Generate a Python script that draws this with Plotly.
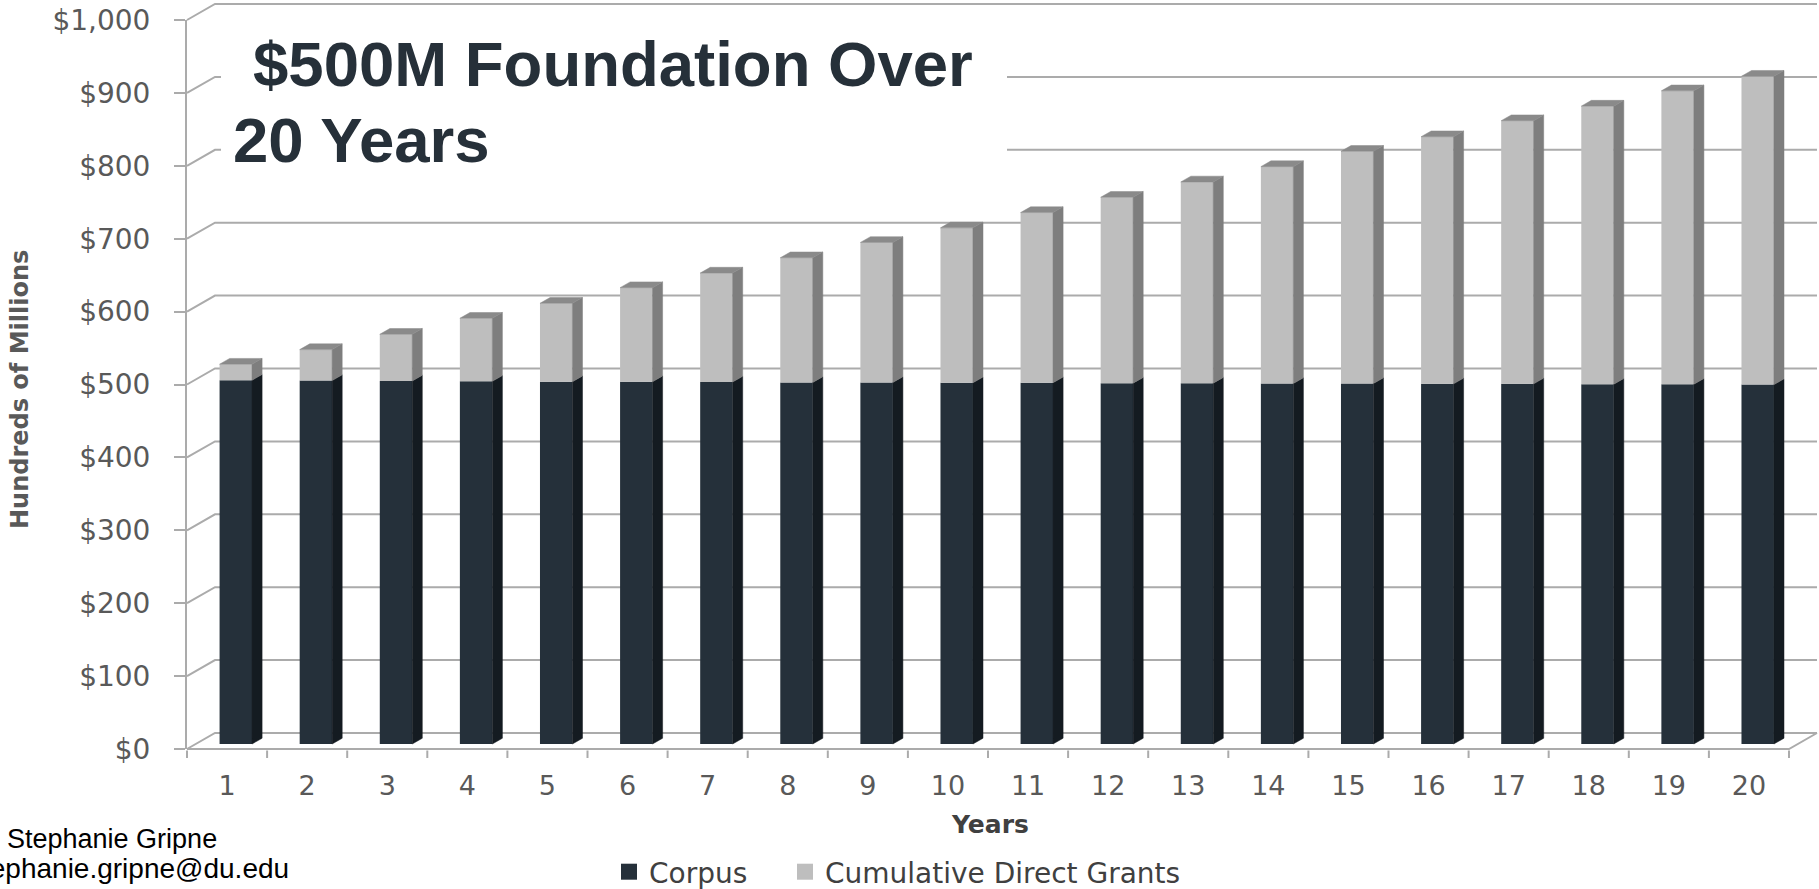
import plotly.graph_objects as go

# ---------------- data ----------------
years = list(range(1, 21))
year_labels = [str(y) for y in years]
corpus = [499, 498.5, 498, 497.5, 497, 497, 496.5, 496, 496, 495.5,
          495.5, 495, 495, 494.5, 494.5, 494, 494, 493.5, 493.5, 493]
grants = [22, 42.5, 64, 86.5, 107.5, 129, 149.5, 171, 192, 212.5,
          233.5, 255, 276, 297.5, 318.5, 339, 361, 381.5, 402.5, 423]
y_tick_vals = [0, 100, 200, 300, 400, 500, 600, 700, 800, 900, 1000]
y_tick_text = ["$0", "$100", "$200", "$300", "$400", "$500", "$600",
               "$700", "$800", "$900", "$1,000"]

# ---------------- layout geometry ----------------
W, H = 1819, 889
X0_PX = 187.0        # pixel of x = 0.5 (front y-axis)
PX_PER_X = 80.1      # pixels per category
Y0_PX = 749.0        # pixel (from top) of value 0 on the front plane
PX_PER_V = 0.729     # pixels per dollar unit
WALL_DX = 28 / PX_PER_X   # depth of the 3-D box in x units
WALL_DY = 16 / PX_PER_V   # depth of the 3-D box in value units
BAR_F = 0.3125            # depth position of bar front face
BAR_D = 0.36              # bar depth (fraction of wall depth)
BAR_W = 0.405             # bar front-face width (category units)

GRID = "#ababab"
C_FRONT, C_SIDE = "#25303a", "#141b21"
G_FRONT, G_SIDE, G_TOP = "#bebebe", "#7e7e7e", "#8a8a8a"
TICKFONT = "DejaVu Sans"

bdx, bdy = BAR_D * WALL_DX, BAR_D * WALL_DY
base0 = BAR_F * WALL_DY
xcent = [y + BAR_F * WALL_DX for y in years]

fig = go.Figure()

# ---------- back wall / floor (subplot x,y covering the full page) ----------
gx, gy = [], []
lo, hi = years[0] - 0.5, years[-1] + 0.5
for v in y_tick_vals:
    gx += [lo, lo + WALL_DX, hi + WALL_DX, None]
    gy += [v, v + WALL_DY, v + WALL_DY, None]
# front floor edge and right floor diagonal
gx += [lo, hi, hi + WALL_DX, None]
gy += [0, 0, WALL_DY, None]
# x tick marks at category boundaries
tick_v = 9 / PX_PER_V
for i in range(len(years) + 1):
    b = lo + i
    gx += [b, b, None]
    gy += [-1.5 / PX_PER_V, -tick_v, None]
fig.add_trace(go.Scatter(x=gx, y=gy, mode="lines", line=dict(color=GRID, width=2),
                         hoverinfo="skip", showlegend=False, xaxis="x", yaxis="y"))

# ---------- bars (subplot x2,y2) ----------
fig.add_trace(go.Bar(x=xcent, y=corpus, base=[base0] * len(years), width=BAR_W,
                     marker=dict(color=C_FRONT, line=dict(width=0)), name="Corpus",
                     showlegend=False, xaxis="x2", yaxis="y2"))
fig.add_trace(go.Bar(x=xcent, y=grants, base=[base0 + c for c in corpus], width=BAR_W,
                     marker=dict(color=G_FRONT, line=dict(width=0)),
                     name="Cumulative Direct Grants", showlegend=False,
                     xaxis="x2", yaxis="y2"))


def side_faces(lower, upper):
    xs, ys = [], []
    for xc, a, b in zip(xcent, lower, upper):
        xr = xc + BAR_W / 2
        y0, y1 = base0 + a, base0 + b
        xs += [xr, xr + bdx, xr + bdx, xr, xr, None]
        ys += [y0, y0 + bdy, y1 + bdy, y1, y0, None]
    return xs, ys


sx, sy = side_faces([0] * len(years), corpus)
fig.add_trace(go.Scatter(x=sx, y=sy, mode="lines", fill="toself", fillcolor=C_SIDE,
                         line=dict(color=C_SIDE, width=0.5), hoverinfo="skip",
                         showlegend=False, xaxis="x2", yaxis="y2"))
tops = [c + g for c, g in zip(corpus, grants)]
sx, sy = side_faces(corpus, tops)
fig.add_trace(go.Scatter(x=sx, y=sy, mode="lines", fill="toself", fillcolor=G_SIDE,
                         line=dict(color=G_SIDE, width=0.5), hoverinfo="skip",
                         showlegend=False, xaxis="x2", yaxis="y2"))
tx, ty = [], []
for xc, t in zip(xcent, tops):
    xl, xr, yt = xc - BAR_W / 2, xc + BAR_W / 2, base0 + t
    tx += [xl, xr, xr + bdx, xl + bdx, xl, None]
    ty += [yt, yt, yt + bdy, yt + bdy, yt, None]
fig.add_trace(go.Scatter(x=tx, y=ty, mode="lines", fill="toself", fillcolor=G_TOP,
                         line=dict(color=G_TOP, width=0.5), hoverinfo="skip",
                         showlegend=False, xaxis="x2", yaxis="y2"))

# legend entries (square swatches)
fig.add_trace(go.Scatter(x=[None], y=[None], mode="markers", name="Corpus",
                         marker=dict(symbol="square", size=16, color=C_FRONT),
                         legend="legend", xaxis="x2", yaxis="y2"))
fig.add_trace(go.Scatter(x=[None], y=[None], mode="markers",
                         name="Cumulative Direct Grants",
                         marker=dict(symbol="square", size=16, color=G_FRONT),
                         legend="legend2", xaxis="x2", yaxis="y2"))

x_full = [0.5 - X0_PX / PX_PER_X, 0.5 + (W - X0_PX) / PX_PER_X]
y_full = [(Y0_PX - H) / PX_PER_V, Y0_PX / PX_PER_V]
top_px = Y0_PX - y_tick_vals[-1] * PX_PER_V
LEG_Y = (H - 872) / H

fig.update_layout(
    width=W, height=H,
    margin=dict(l=0, r=0, t=0, b=0, autoexpand=False),
    paper_bgcolor="white", plot_bgcolor="rgba(0,0,0,0)",
    barmode="overlay",
    xaxis=dict(domain=[0, 1], range=x_full, visible=False, fixedrange=True),
    yaxis=dict(domain=[0, 1], range=y_full, visible=False, fixedrange=True),
    xaxis2=dict(domain=[X0_PX / W, 1], range=[0.5, x_full[1]], anchor="y2",
                tickmode="array", tickvals=years, ticktext=year_labels, ticks="",
                showgrid=False, zeroline=False, showline=False,
                tickfont=dict(family=TICKFONT, size=27, color="#595959"),
                ticklabelstandoff=18),
    yaxis2=dict(domain=[(H - Y0_PX) / H, (H - top_px) / H], range=[0, 1000],
                anchor="x2", tickmode="array", tickvals=y_tick_vals,
                ticktext=y_tick_text, ticks="outside", ticklen=11, tickwidth=2,
                tickcolor=GRID, showline=True, linecolor=GRID, linewidth=2,
                showgrid=False, zeroline=False,
                tickfont=dict(family=TICKFONT, size=28, color="#595959"),
                ticklabelstandoff=18),
    legend=dict(orientation="h", x=609 / W, xanchor="left", y=LEG_Y,
                yanchor="middle", font=dict(family=TICKFONT, size=28, color="#404040"),
                bgcolor="rgba(0,0,0,0)"),
    legend2=dict(orientation="h", x=785 / W, xanchor="left", y=LEG_Y,
                 yanchor="middle", font=dict(family=TICKFONT, size=28, color="#404040"),
                 bgcolor="rgba(0,0,0,0)"),
    shapes=[dict(type="rect", xref="paper", yref="paper", x0=221 / W, x1=1007 / W,
                 y0=1 - 200 / H, y1=1 - 12 / H, fillcolor="white",
                 line=dict(width=0), layer="above")],
    annotations=[
        dict(text="<b>$500M Foundation Over</b>", x=251 / W, y=1 - 64 / H,
             xref="paper", yref="paper", xanchor="left", yanchor="middle",
             showarrow=False, font=dict(family="Liberation Sans", size=63.5, color="#263039")),
        dict(text="<b>20 Years</b>", x=231 / W, y=1 - 140 / H,
             xref="paper", yref="paper", xanchor="left", yanchor="middle",
             showarrow=False, font=dict(family="Liberation Sans", size=63.5, color="#263039")),
        dict(text="<b>Hundreds of Millions</b>", x=20 / W, y=1 - 390 / H,
             xref="paper", yref="paper", xanchor="center", yanchor="middle",
             textangle=-90, showarrow=False,
             font=dict(family=TICKFONT, size=24, color="#595959")),
        dict(text="<b>Years</b>", x=990 / W, y=1 - 824 / H,
             xref="paper", yref="paper", xanchor="center", yanchor="middle",
             showarrow=False, font=dict(family=TICKFONT, size=25, color="#404040")),
        dict(text="Stephanie Gripne", x=5 / W, y=1 - 838.5 / H,
             xref="paper", yref="paper", xanchor="left", yanchor="middle",
             showarrow=False, font=dict(family="Liberation Sans", size=27, color="black")),
        dict(text="stephanie.gripne@du.edu", x=291 / W, y=1 - 868 / H,
             xref="paper", yref="paper", xanchor="right", yanchor="middle",
             showarrow=False, font=dict(family="Liberation Sans", size=28, color="black")),
    ],
)

fig.write_html("out.html")
